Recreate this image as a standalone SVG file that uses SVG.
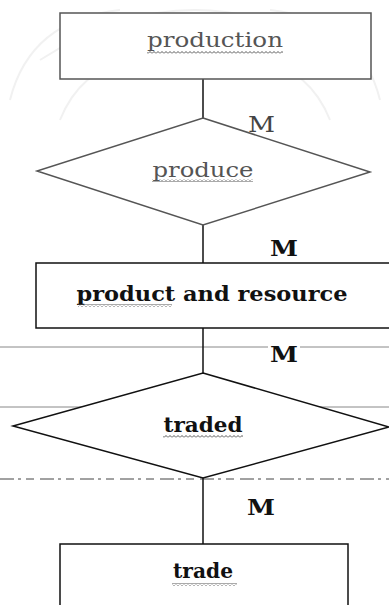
<svg xmlns="http://www.w3.org/2000/svg" width="389" height="605" viewBox="0 0 389 605">
  <style>
    .box { fill: #fff; stroke: #111; stroke-width: 1.5; }
    .faded { stroke: #555; }
    .lbl { font-family: "DejaVu Serif", "Liberation Serif", serif; font-size: 20px; fill: #111; text-anchor: middle; }
    .lblf { fill: #555; }
    .card { font-family: "DejaVu Serif", "Liberation Serif", serif; font-size: 22px; font-weight: bold; fill: #111; }
    .cardf { font-weight: normal; fill: #444; }
    .conn { stroke: #111; stroke-width: 1.5; fill: none; }
    .guide { stroke: #888; stroke-width: 1; }
    .sq { fill: url(#wave); }
  </style>
  <defs>
    <pattern id="wave" width="4" height="3" patternUnits="userSpaceOnUse">
      <path d="M0,2.5 L2,0.5 L4,2.5" stroke="#555" stroke-width="1" fill="none"/>
    </pattern>
  </defs>
  <rect width="389" height="605" fill="#fff"/>
  <g id="watermark" fill="none" stroke="#f1f1f1" stroke-width="2">
    <path d="M40,60 Q195,-40 350,60"/>
    <path d="M60,120 Q80,70 130,60"/>
    <path d="M330,120 Q310,70 260,60"/>
    <path d="M10,100 Q30,20 120,10"/>
    <path d="M380,100 Q360,20 270,10"/>
  </g>
  <g id="guides">
    <line class="guide" x1="0" y1="347" x2="389" y2="347"/>
    <line class="guide" x1="0" y1="407" x2="389" y2="407"/>
    <line x1="0" y1="479" x2="389" y2="479" stroke="#444" stroke-width="1" stroke-dasharray="14,4,3,5,8,6"/>
  </g>
  <g id="connectors">
    <line class="conn faded" x1="203" y1="79" x2="203" y2="118"/>
    <line class="conn" x1="203" y1="225" x2="203" y2="263"/>
    <line class="conn" x1="203" y1="328" x2="203" y2="373"/>
    <line class="conn" x1="203" y1="478" x2="203" y2="544"/>
    <text class="card cardf" x="248" y="132" textLength="27" lengthAdjust="spacingAndGlyphs">M</text>
    <text class="card" x="270" y="256" textLength="28" lengthAdjust="spacingAndGlyphs">M</text>
    <rect x="268" y="342" width="32" height="9" fill="#fff"/>
    <text class="card" x="270" y="362" textLength="28" lengthAdjust="spacingAndGlyphs">M</text>
    <text class="card" x="247" y="515" textLength="28" lengthAdjust="spacingAndGlyphs">M</text>
  </g>
  <g id="production">
    <rect class="box faded" x="60" y="13" width="311" height="66"/>
    <text class="lbl lblf" x="215" y="47" textLength="136" lengthAdjust="spacingAndGlyphs">production</text>
    <rect class="sq" x="147" y="51" width="136" height="3"/>
  </g>
  <g id="produce">
    <polygon class="box faded" points="203,118 370,172 203,225 37,171"/>
    <text class="lbl lblf" x="203" y="177" textLength="101" lengthAdjust="spacingAndGlyphs">produce</text>
    <rect class="sq" x="152" y="179" width="101" height="3"/>
  </g>
  <g id="product_and_resource">
    <rect class="box" x="36" y="263" width="360" height="65"/>
    <text class="lbl" x="212" y="301" textLength="271" lengthAdjust="spacingAndGlyphs" font-weight="bold">product and resource</text>
    <rect class="sq" x="78" y="304" width="94" height="3"/>
  </g>
  <g id="traded">
    <polygon class="box" points="203,373 389,427 203,478 13,426"/>
    <text class="lbl" x="203" y="432" textLength="79" lengthAdjust="spacingAndGlyphs" font-weight="bold">traded</text>
    <rect class="sq" x="163" y="435" width="80" height="3"/>
  </g>
  <g id="trade">
    <rect class="box" x="60" y="544" width="288" height="80"/>
    <text class="lbl" x="203" y="578" textLength="60" lengthAdjust="spacingAndGlyphs" font-weight="bold">trade</text>
    <rect class="sq" x="172" y="583" width="65" height="3"/>
  </g>
</svg>
